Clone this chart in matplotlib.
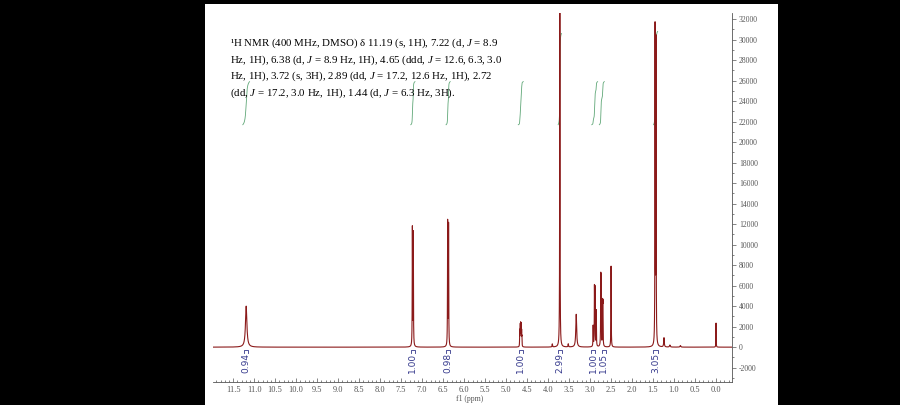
import numpy as np
import matplotlib
matplotlib.use("Agg")
import matplotlib.pyplot as plt
from matplotlib.patches import Rectangle
from matplotlib.ticker import MultipleLocator, FormatStrFormatter

# peak list (ppm, height, half width in ppm)
peak_ppm = [11.19,
            7.232, 7.210,
            6.392, 6.370,
            4.677, 4.670, 4.662, 4.655, 4.645, 4.638, 4.630, 4.623,
            3.90, 3.72, 3.52, 3.33,
            2.927, 2.896, 2.884, 2.853,
            2.745, 2.738, 2.702, 2.695,
            2.50,
            1.452, 1.430, 1.24, 1.10, 0.85,
            0.0]
peak_height = [4000,
               11500, 11000,
               12100, 11800,
               850, 1300, 1750, 1900, 1850, 1750, 1300, 850,
               300, 40000, 300, 3200,
               2000, 5500, 5400, 3500,
               5800, 5600, 3700, 3600,
               7900,
               30800, 29500, 900, 200, 150,
               2350]
peak_hwhm = [0.02,
             0.004, 0.004,
             0.004, 0.004,
             0.003, 0.003, 0.003, 0.003, 0.003, 0.003, 0.003, 0.003,
             0.006, 0.004, 0.006, 0.012,
             0.004, 0.004, 0.004, 0.004,
             0.004, 0.004, 0.004, 0.004,
             0.004,
             0.004, 0.004, 0.008, 0.01, 0.01,
             0.003]

# integrals
int_start = [11.27, 7.27, 6.43, 4.71, 3.76, 2.96, 2.78, 1.49]
int_end = [11.11, 7.17, 6.33, 4.59, 3.68, 2.82, 2.66, 1.39]
int_label = ["0.94", "1.00", "0.98", "1.00", "2.99", "1.00", "1.05", "3.05"]
int_label_ppm = [11.19, 7.22, 6.38, 4.65, 3.72, 2.93, 2.67, 1.44]
int_top = [25900, 25900, 25900, 25900, 30600, 25900, 25900, 30800]
int_bottom = 21700

header = [
    "¹H NMR (400 MHz, DMSO) δ 11.19 (s, 1H), 7.22 (d, $\\mathit{J}$ = 8.9",
    "Hz, 1H), 6.38 (d, $\\mathit{J}$ = 8.9 Hz, 1H), 4.65 (ddd, $\\mathit{J}$ = 12.6, 6.3, 3.0",
    "Hz, 1H), 3.72 (s, 3H), 2.89 (dd, $\\mathit{J}$ = 17.2, 12.6 Hz, 1H), 2.72",
    "(dd, $\\mathit{J}$ = 17.2, 3.0 Hz, 1H), 1.44 (d, $\\mathit{J}$ = 6.3 Hz, 3H).",
]

plt.rcParams["mathtext.fontset"] = "custom"
plt.rcParams["mathtext.rm"] = "Liberation Serif"
plt.rcParams["mathtext.it"] = "Liberation Serif:italic"
plt.rcParams["axes.unicode_minus"] = False

fig = plt.figure(figsize=(9, 4.05), dpi=100, facecolor="black")
fig.patches.append(Rectangle((205 / 900, 0), 573 / 900, 401 / 405,
                             transform=fig.transFigure, facecolor="white",
                             edgecolor="none", zorder=-10))

ax = fig.add_axes([213 / 900, 23 / 405, 519 / 900, 369 / 405])
ax.set_facecolor("none")
ax.set_zorder(1)

# -------------------------
# spectrum trace
# -------------------------
x = np.linspace(12.0, -0.4, 40000)
y = np.zeros_like(x)
for p, h, w in zip(peak_ppm, peak_height, peak_hwhm):
    y += h * w ** 2 / ((x - p) ** 2 + w ** 2)
ax.plot(x, y, color="#8B1A1A", lw=0.8, zorder=3)

# -------------------------
# integral curves, brackets and labels
# -------------------------
for s, e, lab, lx, top in zip(int_start, int_end, int_label, int_label_ppm, int_top):
    m = (x <= s) & (x >= e)
    c = np.cumsum(y[m])
    c = int_bottom + (c - c[0]) / (c[-1] - c[0]) * (top - int_bottom)
    ax.plot(x[m], c, color="#5FA777", lw=0.6, zorder=2)
    ax.plot([lx + 0.05, lx + 0.05, lx - 0.05, lx - 0.05],
            [-550, -300, -300, -550], color="#34388C", lw=0.6)
    ax.text(lx, -1500, lab, rotation=90, ha="center", va="center",
            fontsize=6.5, color="#34388C",
            family=["Liberation Sans Narrow", "DejaVu Sans"])

ax.set_xlim(11.98, -0.38)
ax.set_ylim(-3400, 32600)

for side in ["top", "left"]:
    ax.spines[side].set_visible(False)
for side in ["bottom", "right"]:
    ax.spines[side].set_color("#555555")
    ax.spines[side].set_linewidth(0.6)

ax.xaxis.set_major_locator(MultipleLocator(0.5))
ax.xaxis.set_minor_locator(MultipleLocator(0.1))
ax.xaxis.set_major_formatter(FormatStrFormatter("%.1f"))
ax.yaxis.tick_right()
ax.set_yticks(np.arange(-2000, 32001, 2000))
ax.yaxis.set_minor_locator(MultipleLocator(1000))
ax.tick_params(axis="x", which="both", direction="in", colors="#555555",
               labelsize=6, pad=3, width=0.5)
ax.tick_params(axis="x", which="major", length=3)
ax.tick_params(axis="x", which="minor", length=1.5)
ax.tick_params(axis="y", which="both", direction="out", colors="#555555",
               labelsize=5.5, pad=2, width=0.5)
ax.tick_params(axis="y", which="major", length=3)
ax.tick_params(axis="y", which="minor", length=1.5)
for t in ax.get_xticklabels() + ax.get_yticklabels():
    t.set_fontfamily("Liberation Serif")
ax.set_xlabel("f1 (ppm)", fontsize=5.5, color="#555555", labelpad=0,
              fontfamily="Liberation Serif")
ax.xaxis.set_label_coords((470 - 213) / 519, -0.035)

for i, line in enumerate(header):
    fig.text(230 / 900, 1 - (46 + 16.5 * i) / 405, line, fontsize=7.8,
             fontfamily="Liberation Serif", va="baseline", ha="left",
             color="black", zorder=5)

fig.savefig("out.png", dpi=100, facecolor="black")
